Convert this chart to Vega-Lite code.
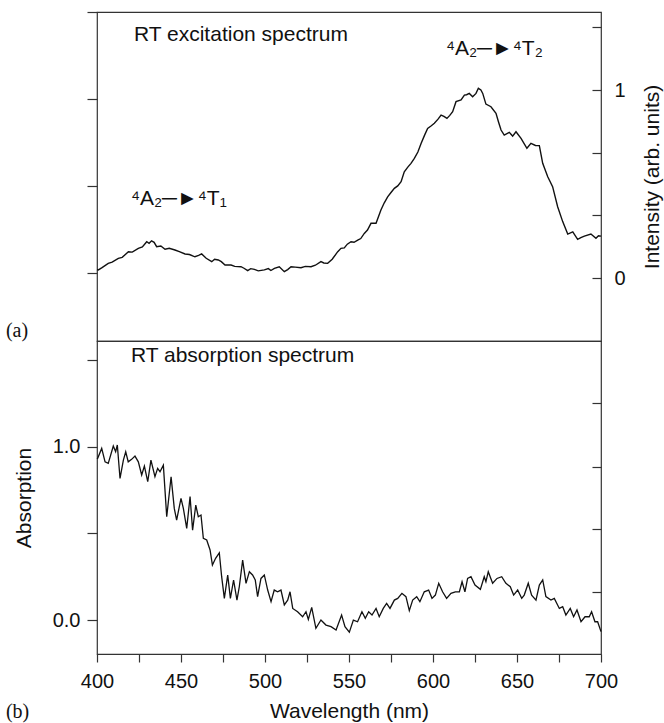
{
  "$schema": "https://vega.github.io/schema/vega-lite/v6.json",
  "padding": {"left": 5, "top": 10, "right": 2, "bottom": 2},
  "background": "white",
  "bounds": "flush",
  "spacing": 0,
  "config": {
    "font": "Liberation Sans",
    "view": {"stroke": "#333", "strokeWidth": 1.2},
    "axis": {"domain": false, "grid": false, "tickColor": "#333", "tickWidth": 1.2, "labelFont": "Liberation Sans", "labelFontSize": 20, "labelColor": "#111", "titleFont": "Liberation Sans", "titleFontSize": 21, "titleFontWeight": "normal", "titleColor": "#111"}
  },
  "vconcat": [
    {
      "width": 504,
      "height": 329,
      "encoding": {"x": {"field": "w", "type": "quantitative", "scale": {"domain": [400, 700], "nice": false, "zero": false}, "axis": null}},
      "layer": [
        {
          "data": {"values": [
            {"w":400,"v":0.045},{"w":400.8,"v":0.043},{"w":403,"v":0.055},{"w":406.7,"v":0.078},{"w":409,"v":0.085},{"w":412.7,"v":0.105},{"w":415,"v":0.11},{"w":418.7,"v":0.14},{"w":421,"v":0.138},{"w":424.6,"v":0.158},{"w":427,"v":0.165},{"w":429.6,"v":0.193},{"w":431,"v":0.185},{"w":432.5,"v":0.198},{"w":434,"v":0.19},{"w":435.5,"v":0.167},{"w":438,"v":0.17},{"w":440.5,"v":0.153},{"w":443,"v":0.158},{"w":446.4,"v":0.149},{"w":449,"v":0.14},{"w":452.4,"v":0.128},{"w":455,"v":0.125},{"w":458.3,"v":0.113},{"w":460.5,"v":0.12},{"w":462.3,"v":0.128},{"w":465,"v":0.105},{"w":468.3,"v":0.087},{"w":470,"v":0.1},{"w":472.2,"v":0.096},{"w":474,"v":0.087},{"w":476.2,"v":0.069},{"w":479.8,"v":0.069},{"w":482,"v":0.062},{"w":485.7,"v":0.06},{"w":487.5,"v":0.052},{"w":489.7,"v":0.039},{"w":491.5,"v":0.05},{"w":493.7,"v":0.046},{"w":496,"v":0.038},{"w":499.6,"v":0.043},{"w":502,"v":0.05},{"w":503.5,"v":0.04},{"w":505.6,"v":0.051},{"w":508.5,"v":0.06},{"w":511.5,"v":0.034},{"w":513.5,"v":0.045},{"w":515.5,"v":0.06},{"w":518,"v":0.058},{"w":521.4,"v":0.055},{"w":524,"v":0.062},{"w":527.4,"v":0.06},{"w":530,"v":0.068},{"w":533.3,"v":0.087},{"w":535,"v":0.08},{"w":537.3,"v":0.078},{"w":540,"v":0.1},{"w":543.3,"v":0.14},{"w":545.2,"v":0.158},{"w":547.2,"v":0.16},{"w":549,"v":0.18},{"w":551.2,"v":0.193},{"w":553,"v":0.19},{"w":555.2,"v":0.202},{"w":557,"v":0.21},{"w":559.1,"v":0.237},{"w":561,"v":0.255},{"w":563.1,"v":0.291},{"w":566.1,"v":0.291},{"w":569,"v":0.362},{"w":571,"v":0.4},{"w":573,"v":0.432},{"w":575,"v":0.455},{"w":577,"v":0.477},{"w":579,"v":0.49},{"w":581,"v":0.512},{"w":582.9,"v":0.565},{"w":585,"v":0.59},{"w":586.9,"v":0.61},{"w":588.9,"v":0.637},{"w":591,"v":0.67},{"w":592.9,"v":0.716},{"w":595,"v":0.76},{"w":596.8,"v":0.796},{"w":599,"v":0.81},{"w":600.8,"v":0.823},{"w":603,"v":0.845},{"w":604.8,"v":0.867},{"w":606.5,"v":0.86},{"w":608.3,"v":0.849},{"w":610,"v":0.865},{"w":611.7,"v":0.885},{"w":613.7,"v":0.938},{"w":616.7,"v":0.947},{"w":618.7,"v":0.973},{"w":620,"v":0.975},{"w":621.6,"v":0.982},{"w":623.6,"v":0.964},{"w":625.6,"v":0.982},{"w":627,"v":1.009},{"w":628.5,"v":1.0},{"w":629.6,"v":0.982},{"w":631.5,"v":0.925},{"w":634.5,"v":0.911},{"w":637.5,"v":0.876},{"w":639,"v":0.83},{"w":640.5,"v":0.787},{"w":642.4,"v":0.76},{"w":645.4,"v":0.775},{"w":647.4,"v":0.755},{"w":649.4,"v":0.778},{"w":652.4,"v":0.743},{"w":655.9,"v":0.69},{"w":658.3,"v":0.716},{"w":661,"v":0.705},{"w":663.3,"v":0.704},{"w":665.3,"v":0.61},{"w":668.3,"v":0.539},{"w":671.2,"v":0.486},{"w":674.2,"v":0.379},{"w":677.2,"v":0.3},{"w":680.2,"v":0.234},{"w":683.2,"v":0.246},{"w":686.1,"v":0.206},{"w":688,"v":0.215},{"w":690.1,"v":0.223},{"w":694,"v":0.234},{"w":697,"v":0.211},{"w":698.5,"v":0.225},{"w":700,"v":0.223}
          ]},
          "mark": {"type": "line", "color": "#111", "strokeWidth": 1.4},
          "encoding": {
            "y": {"field": "v", "type": "quantitative", "scale": {"domain": [-0.335, 1.415], "nice": false, "zero": false},
              "axis": {"orient": "right", "title": "Intensity (arb. units)", "values": [0, 0.3333, 0.6667, 1, 1.3333], "labelExpr": "datum.value == 0 || datum.value == 1 ? format(datum.value, 'd') : ''", "tickSize": -9, "labelPadding": 22, "titleAngle": 270, "titleBaseline": "top", "titlePadding": 16}}
          }
        },
        {
          "data": {"values": [
            {"w": 422.0, "y": 1.261, "t": "RT excitation spectrum"},
            {"w": 420.2, "y": 0.388, "t": "⁴A₂─►⁴T₁"},
            {"w": 607.7, "y": 1.186, "t": "⁴A₂─►⁴T₂"}
          ]},
          "mark": {"type": "text", "align": "left", "baseline": "alphabetic", "fontSize": 21, "color": "#111"},
          "encoding": {
            "y": {"field": "y", "type": "quantitative", "axis": {"orient": "left", "title": null, "values": [0.027, 0.489, 0.952, 1.415], "labels": false, "tickSize": 10}},
            "text": {"field": "t"}
          }
        },
        {
          "data": {"values": [{"w": 345.8, "y": -0.314, "t": "(a)"}]},
          "mark": {"type": "text", "align": "left", "baseline": "alphabetic", "fontSize": 20, "font": "Liberation Serif", "color": "#111"},
          "encoding": {
            "y": {"field": "y", "type": "quantitative", "axis": null},
            "text": {"field": "t"}
          }
        }
      ],
      "resolve": {"axis": {"y": "independent"}}
    },
    {
      "width": 504,
      "height": 313,
      "encoding": {"x": {"field": "w", "type": "quantitative", "scale": {"domain": [400, 700], "nice": false, "zero": false},
        "axis": {"orient": "bottom", "title": "Wavelength (nm)", "values": [400, 425, 450, 475, 500, 525, 550, 575, 600, 625, 650, 675, 700], "labelExpr": "datum.value % 50 == 0 ? format(datum.value, 'd') : ''", "tickSize": 8, "labelPadding": 9, "titlePadding": 9, "labelFlush": false}}},
      "layer": [
        {
          "data": {"values": [
            {"w":400,"v":0.93},{"w":400.4,"v":0.933},{"w":402.8,"v":0.99},{"w":404.8,"v":0.913},{"w":406.7,"v":0.904},{"w":409.7,"v":1.004},{"w":411.1,"v":0.971},{"w":412.1,"v":1.01},{"w":413.7,"v":0.817},{"w":415.7,"v":0.923},{"w":417.1,"v":0.971},{"w":418.6,"v":0.913},{"w":420.6,"v":0.927},{"w":422.6,"v":0.946},{"w":424.6,"v":0.913},{"w":426.6,"v":0.837},{"w":428.2,"v":0.888},{"w":430.2,"v":0.798},{"w":432.1,"v":0.923},{"w":434.5,"v":0.827},{"w":436.1,"v":0.875},{"w":437.5,"v":0.856},{"w":439.5,"v":0.894},{"w":441.5,"v":0.596},{"w":444.1,"v":0.827},{"w":446.0,"v":0.644},{"w":447.4,"v":0.577},{"w":450.0,"v":0.702},{"w":451.4,"v":0.644},{"w":453.4,"v":0.529},{"w":455.4,"v":0.712},{"w":456.9,"v":0.519},{"w":458.8,"v":0.663},{"w":460.3,"v":0.596},{"w":461.9,"v":0.606},{"w":463.3,"v":0.471},{"w":465.3,"v":0.462},{"w":467.3,"v":0.404},{"w":468.7,"v":0.317},{"w":470.6,"v":0.356},{"w":472.8,"v":0.388},{"w":474.2,"v":0.25},{"w":475.8,"v":0.125},{"w":477.8,"v":0.26},{"w":479.4,"v":0.125},{"w":481.3,"v":0.231},{"w":483.3,"v":0.115},{"w":484.7,"v":0.192},{"w":486.7,"v":0.346},{"w":488.7,"v":0.212},{"w":490.7,"v":0.279},{"w":492.6,"v":0.26},{"w":494.2,"v":0.231},{"w":495.6,"v":0.135},{"w":497.6,"v":0.24},{"w":499.6,"v":0.26},{"w":501.6,"v":0.173},{"w":503.6,"v":0.106},{"w":505.5,"v":0.173},{"w":507.5,"v":0.163},{"w":509.5,"v":0.173},{"w":511.5,"v":0.087},{"w":513.5,"v":0.115},{"w":514.9,"v":0.163},{"w":516.5,"v":0.067},{"w":519.4,"v":0.048},{"w":522.4,"v":0.019},{"w":524.4,"v":0.048},{"w":525.8,"v":0.004},{"w":527.8,"v":0.073},{"w":530.3,"v":-0.048},{"w":533.3,"v":0},{"w":536.3,"v":-0.029},{"w":539.3,"v":-0.038},{"w":542.3,"v":-0.058},{"w":545.6,"v":0.029},{"w":547.6,"v":-0.038},{"w":550.2,"v":-0.07},{"w":552.6,"v":0},{"w":555.1,"v":-0.01},{"w":557.7,"v":0.048},{"w":559.7,"v":0.01},{"w":561.7,"v":0.048},{"w":563.7,"v":0.029},{"w":566.1,"v":0.067},{"w":568.0,"v":0.019},{"w":570.4,"v":0.067},{"w":572.4,"v":0.096},{"w":574.4,"v":0.067},{"w":577.0,"v":0.115},{"w":579.0,"v":0.125},{"w":581.5,"v":0.154},{"w":583.9,"v":0.135},{"w":585.9,"v":0.054},{"w":587.9,"v":0.115},{"w":590.3,"v":0.135},{"w":592.2,"v":0.106},{"w":594.8,"v":0.163},{"w":597.4,"v":0.173},{"w":599.4,"v":0.125},{"w":601.4,"v":0.144},{"w":603.4,"v":0.212},{"w":605.7,"v":0.163},{"w":608.1,"v":0.125},{"w":610.7,"v":0.154},{"w":613.3,"v":0.163},{"w":615.7,"v":0.163},{"w":617.3,"v":0.221},{"w":619.0,"v":0.163},{"w":620.6,"v":0.24},{"w":622.6,"v":0.25},{"w":625.0,"v":0.202},{"w":628.2,"v":0.177},{"w":630.5,"v":0.25},{"w":631.5,"v":0.221},{"w":632.9,"v":0.279},{"w":635.5,"v":0.212},{"w":638.1,"v":0.24},{"w":640.9,"v":0.25},{"w":643.4,"v":0.212},{"w":646.0,"v":0.192},{"w":648.0,"v":0.144},{"w":650.4,"v":0.173},{"w":652.8,"v":0.125},{"w":654.3,"v":0.144},{"w":656.7,"v":0.212},{"w":658.7,"v":0.144},{"w":661.3,"v":0.115},{"w":663.3,"v":0.202},{"w":665.3,"v":0.231},{"w":667.2,"v":0.135},{"w":670.2,"v":0.115},{"w":672.2,"v":0.125},{"w":675.2,"v":0.067},{"w":677.2,"v":0.077},{"w":679.1,"v":0.029},{"w":681.7,"v":0.067},{"w":683.7,"v":0.019},{"w":685.7,"v":0.058},{"w":688.1,"v":-0.01},{"w":690.5,"v":0.019},{"w":693.0,"v":0.019},{"w":694.4,"v":0.048},{"w":696.4,"v":-0.01},{"w":698.0,"v":-0.01},{"w":700,"v":-0.067}
          ]},
          "mark": {"type": "line", "color": "#111", "strokeWidth": 1.3},
          "encoding": {
            "y": {"field": "v", "type": "quantitative", "scale": {"domain": [-0.196, 1.61], "nice": false, "zero": false},
              "axis": {"orient": "left", "title": "Absorption", "values": [0, 0.5, 1, 1.5], "labelExpr": "datum.value == 0 || datum.value == 1 ? format(datum.value, '.1f') : ''", "tickSize": 10, "labelPadding": 7, "titlePadding": 18}}
          }
        },
        {
          "data": {"values": [{"w": 420.2, "y": 1.49, "t": "RT absorption spectrum"}]},
          "mark": {"type": "text", "align": "left", "baseline": "alphabetic", "fontSize": 21, "color": "#111"},
          "encoding": {
            "y": {"field": "y", "type": "quantitative", "axis": {"orient": "right", "title": null, "values": [0.16, 0.525, 0.885, 1.252], "labels": false, "tickSize": -9}},
            "text": {"field": "t"}
          }
        },
        {
          "data": {"values": [{"w": 345.8, "y": -0.565, "t": "(b)"}]},
          "mark": {"type": "text", "align": "left", "baseline": "alphabetic", "fontSize": 20, "font": "Liberation Serif", "color": "#111"},
          "encoding": {
            "y": {"field": "y", "type": "quantitative", "axis": null},
            "text": {"field": "t"}
          }
        }
      ],
      "resolve": {"axis": {"y": "independent"}}
    }
  ]
}
